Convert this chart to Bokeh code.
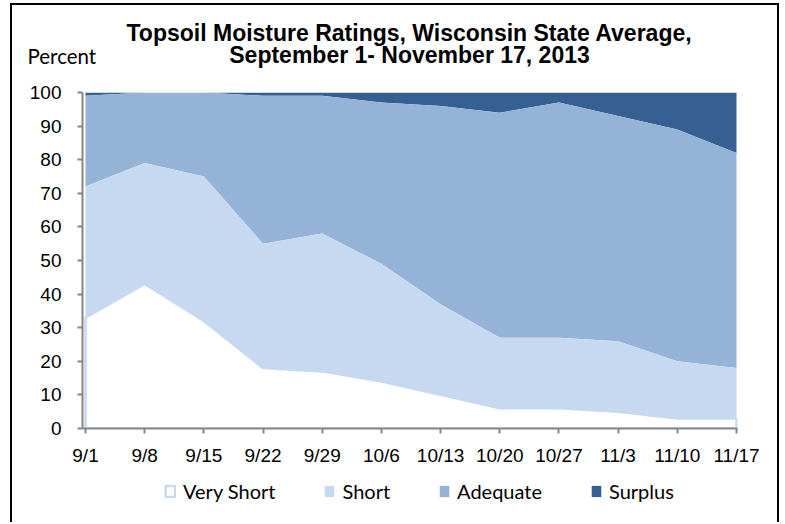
import numpy as np
from bokeh.plotting import figure
from bokeh.layouts import column
from bokeh.models import Range1d, FixedTicker, Legend, LegendItem
from bokeh.core.properties import value
from bokeh.embed import file_html
from bokeh.resources import INLINE

# ---- data ----
dates = ["9/1", "9/8", "9/15", "9/22", "9/29", "10/6", "10/13", "10/20", "10/27", "11/3", "11/10", "11/17"]
very_short = [33, 43, 32, 18, 17, 14, 10, 6, 6, 5, 3, 3]
short = [39, 36, 43, 37, 41, 35, 27, 21, 21, 21, 17, 15]
adequate = [27, 21, 25, 44, 41, 48, 59, 67, 70, 67, 69, 64]
surplus = [1, 0, 0, 1, 1, 3, 4, 6, 3, 7, 11, 18]
y_ticks = list(range(0, 101, 10))
series_names = ["Very Short", "Short", "Adequate", "Surplus"]
title_lines = ["Topsoil Moisture Ratings, Wisconsin State Average,", "September 1- November 17, 2013"]
y_title = "Percent"

# ---- styles ----
C_VS, C_SH, C_AD, C_SU = "#FFFFFF", "#C6D9F1", "#95B3D7", "#366092"
AXIS_GRAY = "#868686"
W = 782
H_HEAD, H_MAIN, H_FOOT = 70, 398, 54


def bare(fig):
    fig.outline_line_color = None
    fig.xgrid.visible = False
    fig.ygrid.visible = False
    fig.background_fill_alpha = 0
    fig.border_fill_alpha = 0
    fig.min_border = 0
    if "frame_align" in fig.properties():
        fig.frame_align = False


# ---- header: titles and y-axis caption ----
head = figure(width=W, height=H_HEAD, x_range=Range1d(0, W), y_range=Range1d(H_HEAD, 0),
              output_backend="svg", toolbar_location=None,
              x_axis_location=None, y_axis_location=None)
bare(head)
head.text(x=[409, 409], y=[32, 54], text=title_lines,
          text_font=value("Liberation Sans"), text_font_style="bold",
          text_font_size="23px", text_color="black",
          text_align="center", text_baseline="alphabetic")
head.text(x=[27], y=[55.5], text=[y_title], text_font=value("Lato"),
          text_font_size="20.5px", text_color="black",
          text_align="left", text_baseline="alphabetic")

# ---- main chart ----
xs = list(range(len(dates)))
c1 = np.array(very_short, dtype=float)
c2 = c1 + np.array(short)
c3 = c2 + np.array(adequate)
c4 = c3 + np.array(surplus)

p = figure(width=W, height=H_MAIN,
           x_range=Range1d(-0.0507, 11.017), y_range=Range1d(0, 100),
           output_backend="svg", toolbar_location=None)
p.outline_line_color = None
p.xgrid.visible = False
p.ygrid.visible = False
p.background_fill_color = "white"
p.border_fill_alpha = 0
p.min_border_left = 82
p.min_border_right = 45
p.min_border_top = 22
p.min_border_bottom = 40

p.varea(x=xs, y1=c3, y2=c4, fill_color=C_SU)
p.varea(x=xs, y1=c2, y2=c3, fill_color=C_AD)
p.varea(x=xs, y1=c1, y2=c2, fill_color=C_SH)
p.patch(x=xs + xs[::-1], y=list(c1) + [0] * len(xs),
        fill_color=C_VS, line_color=C_SH, line_width=2.5)

for ax in (p.xaxis[0], p.yaxis[0]):
    ax.axis_line_color = AXIS_GRAY
    ax.axis_line_width = 2
    ax.major_tick_line_color = AXIS_GRAY
    ax.major_tick_line_width = 2
    ax.major_tick_in = 0
    ax.major_tick_out = 5
    ax.minor_tick_line_color = None
    ax.major_label_text_font = "Liberation Sans"
    ax.major_label_text_font_size = "19px"
    ax.major_label_text_color = "black"

p.xaxis.ticker = FixedTicker(ticks=xs)
p.xaxis.major_label_overrides = {i: d for i, d in enumerate(dates)}
p.xaxis.major_label_standoff = 11
p.yaxis.ticker = FixedTicker(ticks=y_ticks)
p.yaxis.major_label_standoff = 16

# ---- footer: legend ----
foot = figure(width=W, height=H_FOOT, x_range=Range1d(0, W), y_range=Range1d(H_FOOT, 0),
              output_backend="svg", toolbar_location=None,
              x_axis_location=None, y_axis_location=None)
bare(foot)
off = [-20, -19]
lg_vs = foot.patch(x=off, y=off, fill_color=C_VS, line_color=C_SH, line_width=2.5)
lg_sh = foot.varea(x=off, y1=off, y2=off, fill_color=C_SH)
lg_ad = foot.varea(x=off, y1=off, y2=off, fill_color=C_AD)
lg_su = foot.varea(x=off, y1=off, y2=off, fill_color=C_SU)
legend = Legend(items=[LegendItem(label=series_names[0], renderers=[lg_vs]),
                       LegendItem(label=series_names[1], renderers=[lg_sh]),
                       LegendItem(label=series_names[2], renderers=[lg_ad]),
                       LegendItem(label=series_names[3], renderers=[lg_su])],
                orientation="horizontal", location=(164, 19),
                label_text_font="Lato", label_text_font_size="20px",
                label_text_color="black",
                glyph_width=12, glyph_height=14, label_standoff=7, spacing=48,
                border_line_color=None, background_fill_alpha=0,
                margin=0, padding=10)
foot.add_layout(legend, "center")

layout = column(head, p, foot, spacing=0)
layout.styles = {
    "background-color": "white",
    "background-image": "linear-gradient(#000,#000), linear-gradient(#000,#000), linear-gradient(#000,#000)",
    "background-size": "2px 100%, 2px 100%, 769px 2px",
    "background-position": "10px 3px, 777px 3px, 10px 3px",
    "background-repeat": "no-repeat",
}

open("out.html", "w").write(file_html(layout, INLINE))
